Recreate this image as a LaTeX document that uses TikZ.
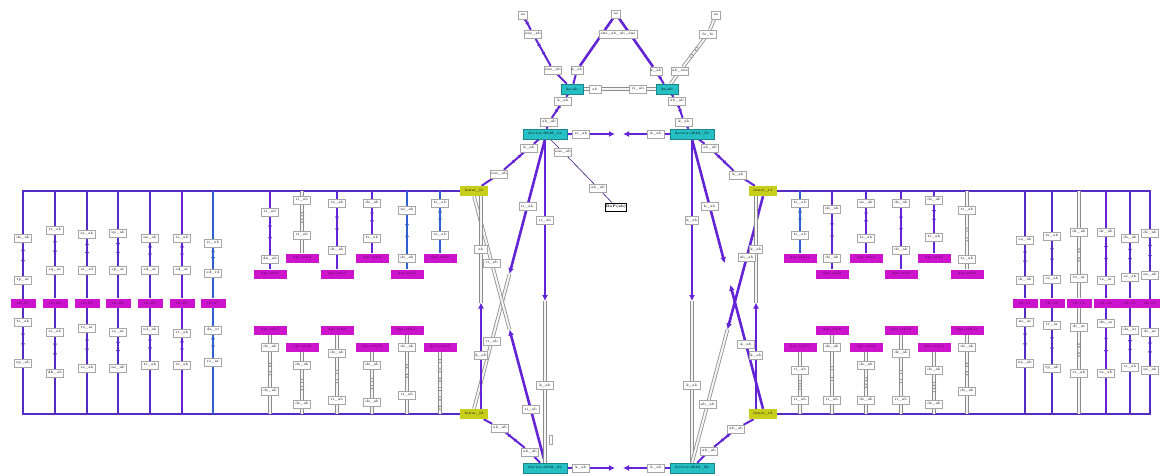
\documentclass[tikz,border=0pt]{standalone}
\usepackage{tikz}
\usetikzlibrary{arrows.meta, positioning, calc, decorations.markings, backgrounds}

\definecolor{vio}{RGB}{98,36,212}
\definecolor{frm}{RGB}{84,44,196}
\definecolor{blu}{RGB}{46,96,206}
\definecolor{mag}{RGB}{205,20,205}
\definecolor{cyn}{RGB}{38,192,196}
\definecolor{ylw}{RGB}{200,206,28}
\definecolor{gry}{RGB}{140,140,140}

\tikzset{
  tiny/.style={font=\fontsize{3.6}{4}\selectfont},
  bx/.style={tiny, draw=gray!70, fill=white, inner sep=0.6pt, minimum width=17pt, minimum height=8pt},
  mg/.style={tiny, fill=mag, text=black!60!mag, inner sep=0.5pt, minimum width=25pt, minimum height=9pt},
  mgw/.style={mg, minimum width=33pt},
  cy/.style={tiny, fill=cyn, draw=cyn!70!black, inner sep=0.5pt, minimum width=44pt, minimum height=10pt},
  cys/.style={cy, minimum width=22pt},
  yl/.style={tiny, fill=ylw, inner sep=0.5pt, minimum width=28pt, minimum height=10pt},
  dk/.style={bx, draw=black, font=\fontsize{3.6}{4}\selectfont\bfseries},
  % connectors
  fr/.style={draw=frm, line width=2.4pt},
  pe/.style={draw=vio, line width=2pt},
  po/.style={draw=frm, line width=2pt},
  pb/.style={draw=blu, line width=2pt},
  gl/.style={draw=gry, line width=0.8pt, double=gray!8, double distance=2pt},
  th/.style={draw=vio!60!black, line width=0.6pt},
  ph/.style={draw=vio, line width=2.6pt, -{Latex[length=6pt,width=6pt]}},
  arr/.style={postaction={decorate}, decoration={markings,
      mark=at position 0.35 with {\arrow{Latex[length=4pt,width=4pt]}},
      mark=at position 0.65 with {\arrow{Latex[length=4pt,width=4pt]}}}},
  pm/.style={pe, arr},
  mo/.style={po, arr},
  mb/.style={pb, arr},
  gm/.style={gl, postaction={decorate}, decoration={markings,
      mark=at position 0.38 with {\draw[gry, line width=0.6pt, fill=white] circle (1.9pt);},
      mark=at position 0.62 with {\draw[gry, line width=0.6pt, fill=white] circle (1.9pt);}}},
  gk/.style={gl, postaction={decorate}, decoration={markings,
      mark=between positions 0.15 and 0.9 step 0.15 with {\draw[gry, line width=0.6pt, fill=white] circle (1.9pt);}}}
}

\begin{document}
\begin{tikzpicture}[x=1pt, y=-1pt]
    \useasboundingbox (0,0) rectangle (1160,475);

    % Yellow corner nodes and the two frames
    \node[yl] (ytl) at (474,191) {lower\_l1};
    \node[yl] (ybl) at (474,414) {lower\_l2};
    \node[yl] (ytr) at (763,191) {lower\_r1};
    \node[yl] (ybr) at (763,414) {lower\_r2};
    \coordinate (fl1) at (23,191);
    \coordinate (fl2) at (23,414);
    \coordinate (fr1) at (1150,191);
    \coordinate (fr2) at (1150,414);
    \begin{scope}[on background layer]
        \draw[fr] (ytl.west) -- (fl1) -- (fl2) -- (ybl.west);
        \draw[fr] (ytr.east) -- (fr1) -- (fr2) -- (ybr.east);
    \end{scope}

    % Outer columns, left and right
    \foreach \x/\ya/\yb/\yc/\yd/\p/\m/\ta/\tb/\tm/\tc/\td in {
        23/238/280/322/363/po/mo/ds\_ab/tp\_ar/ifr-01/ts\_ab/ep\_ab,
        55/230/270/332/373/po/mo/rt\_ab/eq\_ar/ifr-02/rs\_ab/dh\_ab,
        87/234/270/328/368/po/mo/ss\_ab/er\_rd/ifr-03/ts\_ar/re\_ab,
        118/233/270/332/368/po/mo/sp\_ab/ep\_ar/ifr-04/re\_ar/ns\_ab,
        150/238/270/330/365/po/mo/ns\_ab/ed\_ar/ifr-05/rd\_ab/ts\_ab,
        182/238/270/333/365/pe/pm/rs\_ab/ed\_ar/ifr-06/rr\_ab/rs\_ab,
        213/243/273/330/362/pb/mb/rs\_ab/ed\_rd/ifr-07/da\_rr/rs\_ar,
        1025/240/280/322/363/po/mo/ea\_ab/dr\_ab/ifr-11/ne\_ar/ne\_ab,
        1052/236/279/325/368/po/mo/ts\_ab/es\_ab/ifr-12/tr\_ar/tp\_ab,
        1079/232/278/327/373/gl/gm/dr\_ab/ts\_ar/ifr-13/dr\_ar/sr\_ab,
        1106/232/280/323/373/pe/pm/dr\_ab/te\_ar/ifr-14/dn\_ar/ta\_ab,
        1130/238/277/330/367/po/mo/ds\_ab/es\_ab/ifr-15/da\_ar/rs\_ab,
        1150/233/275/332/370/po/mo/ds\_ab/ns\_ab/ifr-16/ds\_ar/ns\_ab} {
        \node[bx] (oa\x) at (\x,\ya) {\ta};
        \node[bx] (ob\x) at (\x,\yb) {\tb};
        \node[mg] (om\x) at (\x,303) {\tm};
        \node[bx] (oc\x) at (\x,\yc) {\tc};
        \node[bx] (od\x) at (\x,\yd) {\td};
        \coordinate (ot\x) at (\x,191);
        \coordinate (ou\x) at (\x,414);
        \begin{scope}[on background layer]
            \draw[\p] (ot\x) -- (oa\x);
            \draw[\m] (oa\x) -- (ob\x);
            \draw[\p] (ob\x) -- (om\x) -- (oc\x);
            \draw[\m] (oc\x) -- (od\x);
            \draw[\p] (od\x) -- (ou\x);
        \end{scope}
    }

    % Inner columns, upper half (hanging from the top line)
    \foreach \x/\ya/\yb/\ym/\p/\m/\ta/\tb/\tm in {
        270/212/259/274/pe/pm/ri\_ab/dn\_ab/dpr-eth1,
        302/200/235/258/gl/gm/ri\_ab/ri\_ab/dpr-eth2,
        337/203/250/274/pe/pm/es\_ab/dr\_ab/dpr-eth3,
        372/203/238/258/pe/pm/ds\_ab/ts\_ab/dpr-eth4,
        407/210/258/274/pb/mb/ns\_ab/ds\_ab/dpr-eth5,
        440/203/235/258/pb/mb/ts\_ab/rs\_ab/dpr-eth6,
        800/203/235/258/pb/mb/ts\_ab/ts\_ab/dpr-eth1s,
        832/209/258/274/pe/pm/ds\_ab/ds\_ab/dpr-eth2,
        866/203/238/258/pe/pm/ns\_ab/ts\_ab/dpr-eth3,
        901/203/250/274/pe/pm/ds\_ab/ds\_ab/dpr-eth4,
        934/200/237/258/pe/pm/ds\_ab/ts\_ab/dpr-eth5,
        967/210/259/274/gl/gm/ts\_ab/ts\_ab/dpr-eth6} {
        \node[bx] (ia\x) at (\x,\ya) {\ta};
        \node[bx] (ib\x) at (\x,\yb) {\tb};
        \node[mgw] (im\x) at (\x,\ym) {\tm};
        \coordinate (it\x) at (\x,191);
        \begin{scope}[on background layer]
            \draw[\p] (it\x) -- (ia\x);
            \draw[\m] (ia\x) -- (ib\x);
            \draw[\p] (ib\x) -- (im\x);
        \end{scope}
    }

    % Inner columns, lower half (standing on the bottom line)
    \foreach \x/\ym/\yc/\yd/\tm/\tc/\td in {
        270/330/347/391/dpr-eth7/ds\_ab/ds\_ab,
        302/347/365/404/dpr-eth8/ds\_ab/ds\_ab,
        337/330/353/400/dpr-eth9/ds\_ab/ri\_ab,
        372/347/365/402/dpr-eth10/ds\_ab/ds\_ab,
        407/330/347/395/dpr-eth11/ds\_ab/ri\_ab,
        800/347/370/400/dpr-eth7s/ri\_ab/ri\_ab,
        832/330/347/400/dpr-eth8/ds\_ab/ri\_ab,
        866/347/365/400/dpr-eth9/ds\_ab/ds\_ab,
        901/330/353/400/dpr-eth10/ds\_ab/ri\_ab,
        934/347/370/404/dpr-eth11/ds\_ab/ds\_ab,
        967/330/347/391/dpr-eth12/ds\_ab/ds\_ab} {
        \node[mgw] (jm\x) at (\x,\ym) {\tm};
        \node[bx] (jc\x) at (\x,\yc) {\tc};
        \node[bx] (jd\x) at (\x,\yd) {\td};
        \coordinate (ju\x) at (\x,414);
        \begin{scope}[on background layer]
            \draw[gl] (jm\x) -- (jc\x);
            \draw[gm] (jc\x) -- (jd\x);
            \draw[gl] (jd\x) -- (ju\x);
        \end{scope}
    }
    \node[mgw] (jm440) at (440,347) {dpr-eth12};
    \coordinate (ju440) at (440,414);
    \begin{scope}[on background layer]
        \draw[gk] (jm440) -- (ju440);
    \end{scope}

    % Top of the core
    \node[bx, minimum width=9pt] (t1) at (523,15) {ae};
    \node[bx, minimum width=9pt] (t2) at (616,14) {ae};
    \node[bx, minimum width=9pt] (t3) at (716,15) {ae};
    \node[bx] (a1) at (533,34) {ens\_ab};
    \node[bx, minimum width=38pt] (a2) at (618,34) {ens\_ab\_ab\_ens};
    \node[bx] (a3) at (708,34) {fe\_fe};
    \node[bx] (b1) at (553,70) {ens\_ab};
    \node[bx, minimum width=12pt] (b2) at (577,70) {k\_ab};
    \node[bx, minimum width=12pt] (b3) at (656,71) {k\_ab};
    \node[bx] (b4) at (680,71) {ab\_ens};
    \node[cys] (cl) at (572,89) {ke-ab};
    \node[cys] (cr) at (667,89) {ke-ab};
    \node[bx, minimum width=12pt] (d1) at (595,89) {ab};
    \node[bx] (d2) at (638,89) {ri\_ab};
    \node[bx] (e1) at (563,101) {k\_ab};
    \node[bx] (e2) at (677,101) {ab\_ab};
    \node[bx] (f1) at (549,122) {ab\_ab};
    \node[bx] (f2) at (684,122) {k\_ab};

    % Core cyan nodes
    \node[cy] (ktl) at (545,134) {doctor-0048\_1a};
    \node[cy] (ktr) at (692,134) {doctor-0048\_1b};
    \node[cy] (kbl) at (545,468) {doctor-0048\_2a};
    \node[cy] (kbr) at (692,468) {doctor-0048\_2b};
    \node[bx] (g1) at (581,134) {rs\_ab};
    \node[bx] (g2) at (656,134) {k\_ab};
    \node[bx] (g3) at (581,468) {k\_ab};
    \node[bx] (g4) at (656,468) {k\_ab};
    \coordinate (gl1) at (615,134);
    \coordinate (gr1) at (623,134);
    \coordinate (gl2) at (615,468);
    \coordinate (gr2) at (623,468);

    % Side branches
    \node[bx] (h1) at (529,148) {k\_ab};
    \node[bx] (h2) at (563,152) {ens\_ab};
    \node[bx] (h3) at (710,148) {ab\_ab};
    \node[bx] (i1) at (598,188) {ab\_ab};
    \node[dk] (fin) at (616,207) {BoP(ab)};
    \node[bx] (j1) at (499,174) {ens\_ab};
    \node[bx] (j2) at (738,175) {k\_ab};
    \node[bx] (q1) at (500,428) {ab\_ab};
    \node[bx] (q2) at (530,452) {ab\_ab};
    \node[bx] (q3) at (736,429) {ab\_ab};
    \node[bx] (q4) at (709,451) {ab\_ab};
    \node[bx, minimum width=3pt, minimum height=9pt] (r1) at (551,440) {};

    % Half edges between core and yellow nodes
    \coordinate (ya) at ($(ytl.south)+(7,0)$);
    \coordinate (yb) at ($(ybl.north)+(7,0)$);
    \coordinate (yc) at ($(ytr.south)+(-7,0)$);
    \coordinate (yd) at ($(ybr.north)+(-7,0)$);
    \coordinate (m1) at ($(ktl.south)!0.5!(ybl.north)$);
    \coordinate (m2) at ($(kbl.north)!0.5!(ytl.south)$);
    \coordinate (m3) at ($(ya)!0.5!(yb)$);
    \coordinate (m4) at ($(ktl.south)!0.5!(kbl.north)$);
    \coordinate (m5) at ($(ktr.south)!0.5!(kbr.north)$);
    \coordinate (m6a) at ($(ktr.south)!0.46!(ybr.north)$);
    \coordinate (m6b) at ($(ktr.south)!0.54!(ybr.north)$);
    \coordinate (m7) at ($(kbr.north)!0.5!(ytr.south)$);
    \coordinate (m8) at ($(yc)!0.5!(yd)$);
    \node[bx] (p1) at ($(ktl.south)!0.25!(ybl.north)$) {ri\_ab};
    \node[bx] (p2) at ($(ktl.south)!0.75!(ybl.north)$) {ri\_ab};
    \node[bx] (p3) at ($(kbl.north)!0.2!(ytl.south)$) {ri\_ab};
    \node[bx] (p4) at ($(kbl.north)!0.75!(ytl.south)$) {ri\_ab};
    \node[bx, minimum width=13pt] (p5) at ($(ya)!0.25!(yb)$) {ab};
    \node[bx, minimum width=13pt] (p6) at ($(ya)!0.75!(yb)$) {k\_ab};
    \node[bx] (p7) at ($(ktl.south)!0.25!(kbl.north)$) {ri\_ab};
    \node[bx] (p8) at ($(ktl.south)!0.76!(kbl.north)$) {k\_ab};
    \node[bx, minimum width=13pt] (p9) at ($(ktr.south)!0.25!(kbr.north)$) {k\_ab};
    \node[bx] (p10) at ($(ktr.south)!0.76!(kbr.north)$) {k\_ab};
    \node[bx] (p11) at ($(ktr.south)!0.25!(ybr.north)$) {k\_ab};
    \node[bx] (p12) at ($(ktr.south)!0.76!(ybr.north)$) {k\_ab};
    \node[bx] (p13) at ($(kbr.north)!0.77!(ytr.south)$) {ab\_ab};
    \node[bx] (p14) at ($(kbr.north)!0.22!(ytr.south)$) {ab\_ab};
    \node[bx, minimum width=13pt] (p15) at ($(yc)!0.25!(yd)$) {k\_ab};
    \node[bx, minimum width=13pt] (p16) at ($(yc)!0.75!(yd)$) {k\_ab};

    \begin{scope}[on background layer]
        % top triangle
        \draw[pm] (t1) -- (a1);
        \draw[pm] (a1) -- (b1);
        \draw[pe] (b1) -- (cl);
        \draw[pe, line width=2.6pt] (t2) -- (b2);
        \draw[pe] (b2) -- (cl);
        \draw[pe, line width=2.6pt] (t2) -- (b3);
        \draw[pm] (b3) -- (cr);
        \draw[gl] (t3) -- (a3);
        \draw[gm] (a3) -- (b4);
        \draw[gl] (b4) -- (cr);
        \draw[gl] (cl) -- (d1);
        \draw[gl] (d1) -- (d2);
        \draw[gl] (d2) -- (cr);
        \draw[pe] (cl) -- (e1);
        \draw[pm] (e1) -- (f1);
        \draw[pe] (f1) -- (ktl);
        \draw[pe] (cr) -- (e2);
        \draw[pm] (e2) -- (f2);
        \draw[pe] (f2) -- (ktr);
        % links between the cyan pairs
        \draw[pe] (ktl) -- (g1);
        \draw[ph] (g1) -- (gl1);
        \draw[pe] (ktr) -- (g2);
        \draw[ph] (g2) -- (gr1);
        \draw[pe] (kbl) -- (g3);
        \draw[ph] (g3) -- (gl2);
        \draw[pe] (kbr) -- (g4);
        \draw[ph] (g4) -- (gr2);
        % branches
        \draw[th] (ktl) -- (h2) -- (i1) -- (fin);
        \draw[pe] (ktl) -- (h1);
        \draw[pm] (h1) -- (j1);
        \draw[pe] (j1) -- (ytl);
        \draw[pe] (ktr) -- (h3);
        \draw[pm] (h3) -- (j2);
        \draw[pe] (j2) -- (ytr);
        \draw[pe] (ybl) -- (q1);
        \draw[pm] (q1) -- (q2);
        \draw[pe] (q2) -- (kbl);
        \draw[pe] (ybr) -- (q3);
        \draw[pm] (q3) -- (q4);
        \draw[pe] (q4) -- (kbr);
        % crossing halves, left
        \draw[ph] (ktl.south) -- (m1);
        \draw[gl] (ybl.north) -- (m1);
        \draw[ph] (kbl.north) -- (m2);
        \draw[gl] (ytl.south) -- (m2);
        \draw[gl] (ya) -- (m3);
        \draw[ph] (yb) -- (m3);
        \draw[ph] (ktl.south) -- (m4);
        \draw[gl] (kbl.north) -- (m4);
        % crossing halves, right
        \draw[ph] (ktr.south) -- (m5);
        \draw[gl] (kbr.north) -- (m5);
        \draw[ph] (ktr.south) -- (m6a);
        \draw[ph] (ybr.north) -- (m6b);
        \draw[ph] (ytr.south) -- (m7);
        \draw[gl] (kbr.north) -- (m7);
        \draw[gl] (yc) -- (m8);
        \draw[ph] (yd) -- (m8);
    \end{scope}
\end{tikzpicture}
\end{document}
